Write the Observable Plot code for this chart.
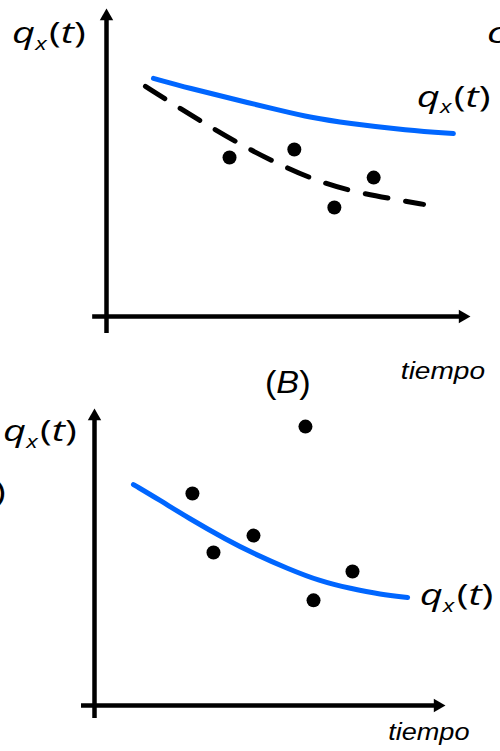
<!DOCTYPE html>
<html><head><meta charset="utf-8">
<script src="https://cdn.jsdelivr.net/npm/d3@7"></script>
<script src="https://cdn.jsdelivr.net/npm/@observablehq/plot@0.6"></script>
<style>
html,body{margin:0;padding:0;background:#fff;}
#chart{width:500px;height:751px;overflow:hidden;position:relative;background:#fff;}
#chart svg{display:block;overflow:visible;}
</style></head><body><div id="chart"></div>
<script>
// ---- Panel A (top): model curve, fitted dashed curve, observations
const aCurveT = [1.29, 2.31, 3.41, 4.78, 5.60, 6.62, 8.27, 9.53];
const aCurveQ = [7.73, 7.40, 7.08, 6.69, 6.46, 6.27, 6.04, 5.94];
const aDashT  = [1.07, 2.03, 2.97, 3.93, 4.92, 5.96, 7.01, 8.10, 8.71];
const aDashQ  = [7.47, 6.75, 6.07, 5.42, 4.84, 4.32, 3.99, 3.77, 3.64];
const aObsT   = [3.38, 5.16, 6.26, 7.34];
const aObsQ   = [5.16, 5.42, 3.54, 4.51];
// ---- Panel B (bottom): model curve and observations
const bCurveT = [1.11, 1.88, 2.65, 3.79, 4.53, 5.50, 6.44, 7.29, 8.15, 8.92];
const bCurveQ = [7.44, 6.90, 6.33, 5.56, 5.12, 4.61, 4.18, 3.94, 3.74, 3.64];
const bObsT   = [2.79, 3.39, 4.53, 6.01, 6.24, 7.35];
const bObsQ   = [7.14, 5.15, 5.72, 9.39, 3.54, 4.51];
// ---- texts
const axisLabelX = "tiempo";
const panelLetterB = "B";
const qSymbol = "q", qSub = "x", qArg = "t";

const INK = "#000";
const BLUE = "#0066ff";
const QFONT = "'Open Sans', 'Noto Sans', sans-serif";
const AFONT = "'Liberation Sans', Arial, sans-serif";

const zip = (T, Q) => T.map((t, i) => ({t, q: Q[i]}));

function axes(xExt, yExt) {
  return [
    Plot.ruleY([0], {x1: xExt[0], x2: xExt[1], stroke: INK, strokeWidth: 4.5}),
    Plot.ruleX([0], {y1: yExt[0], y2: yExt[1], stroke: INK, strokeWidth: 4.5}),
    Plot.dot([{t: 10, q: 0}], {x: "t", y: "q", symbol: "triangle", r: 5, fill: INK, stroke: null, rotate: 90, dx: -7.8}),
    Plot.dot([{t: 0, q: 10}], {x: "t", y: "q", symbol: "triangle", r: 5, fill: INK, stroke: null, rotate: 0, dy: 7.8})
  ];
}

function stretchedText(svg, sx, sy, t, q, stretch, build) {
  const g = d3.select(svg).append("g")
    .attr("transform", `translate(${sx(t)},${sy(q)}) scale(${stretch},1)`);
  const text = g.append("text").attr("x", 0).attr("y", 0)
    .attr("fill", INK).attr("text-anchor", "start");
  build(text);
}

function qLabel(svg, sx, sy, t, q, size) {
  stretchedText(svg, sx, sy, t, q, 1.33, text => {
    text.attr("font-family", QFONT).attr("font-size", size);
    text.append("tspan").attr("font-style", "italic").text(qSymbol);
    text.append("tspan").attr("font-style", "italic").attr("font-size", size * 0.6).attr("dy", size * 0.22).text(qSub);
    text.append("tspan").attr("dy", -size * 0.22).attr("dx", size * 0.06).text("(");
    text.append("tspan").attr("font-style", "italic").text(qArg);
    text.append("tspan").text(")");
  });
}

function plainLabel(svg, sx, sy, t, q, str, size, family, italic, stretch) {
  stretchedText(svg, sx, sy, t, q, stretch, text => {
    text.attr("font-family", family).attr("font-size", size)
      .attr("font-style", italic ? "italic" : "normal").text(str);
  });
}

function panelTitle(svg, sx, sy, t, q, letter, size) {
  stretchedText(svg, sx, sy, t, q, 1.07, text => {
    text.attr("font-family", AFONT).attr("font-size", size);
    text.append("tspan").text("(");
    text.append("tspan").attr("font-style", "italic").text(letter);
    text.append("tspan").text(")");
  });
}

// ---------- Panel A ----------
const plotA = Plot.plot({
  width: 500, height: 380,
  marginLeft: 106, marginRight: 30, marginTop: 8, marginBottom: 64,
  x: {domain: [0, 10], axis: null},
  y: {domain: [0, 10], axis: null},
  style: {background: "transparent"},
  marks: [
    ...axes([-0.38, 9.7], [-0.55, 9.7]),
    Plot.line(zip(aCurveT, aCurveQ), {x: "t", y: "q", stroke: BLUE, strokeWidth: 5, curve: "basis"}),
    Plot.line(zip(aDashT, aDashQ), {x: "t", y: "q", stroke: INK, strokeWidth: 5, strokeDasharray: "23,18", curve: "basis"}),
    Plot.dot(zip(aObsT, aObsQ), {x: "t", y: "q", r: 7, fill: INK, stroke: null})
  ]
});
{
  const sx = v => plotA.scale("x").apply(v), sy = v => plotA.scale("y").apply(v);
  qLabel(plotA, sx, sy, -2.58, 8.86, 30);
  qLabel(plotA, sx, sy, 8.54, 6.79, 30);
  plainLabel(plotA, sx, sy, 10.47, 8.86, "c", 30, QFONT, true, 1.33);
  plainLabel(plotA, sx, sy, 8.1, -2.06, axisLabelX, 24, AFONT, true, 1.17);
}

// ---------- Panel B ----------
const plotB = Plot.plot({
  width: 500, height: 371,
  marginLeft: 94, marginRight: 55, marginTop: 28, marginBottom: 46,
  x: {domain: [0, 10], axis: null},
  y: {domain: [0, 10], axis: null},
  style: {background: "transparent"},
  marks: [
    ...axes([-0.37, 9.7], [-0.44, 9.7]),
    Plot.line(zip(bCurveT, bCurveQ), {x: "t", y: "q", stroke: BLUE, strokeWidth: 5, curve: "basis"}),
    Plot.dot(zip(bObsT, bObsQ), {x: "t", y: "q", r: 7, fill: INK, stroke: null})
  ]
});
{
  const sx = v => plotB.scale("x").apply(v), sy = v => plotB.scale("y").apply(v);
  panelTitle(plotB, sx, sy, 4.87, 10.5, panelLetterB, 32);
  qLabel(plotB, sx, sy, -2.59, 8.89, 30);
  plainLabel(plotB, sx, sy, -2.85, 6.84, ")", 30, QFONT, false, 1.33);
  qLabel(plotB, sx, sy, 9.28, 3.37, 30);
  plainLabel(plotB, sx, sy, 8.38, -1.18, axisLabelX, 24, AFONT, true, 1.13);
}

const chart = document.getElementById("chart");
chart.appendChild(plotA);
chart.appendChild(plotB);
</script>
</body></html>
